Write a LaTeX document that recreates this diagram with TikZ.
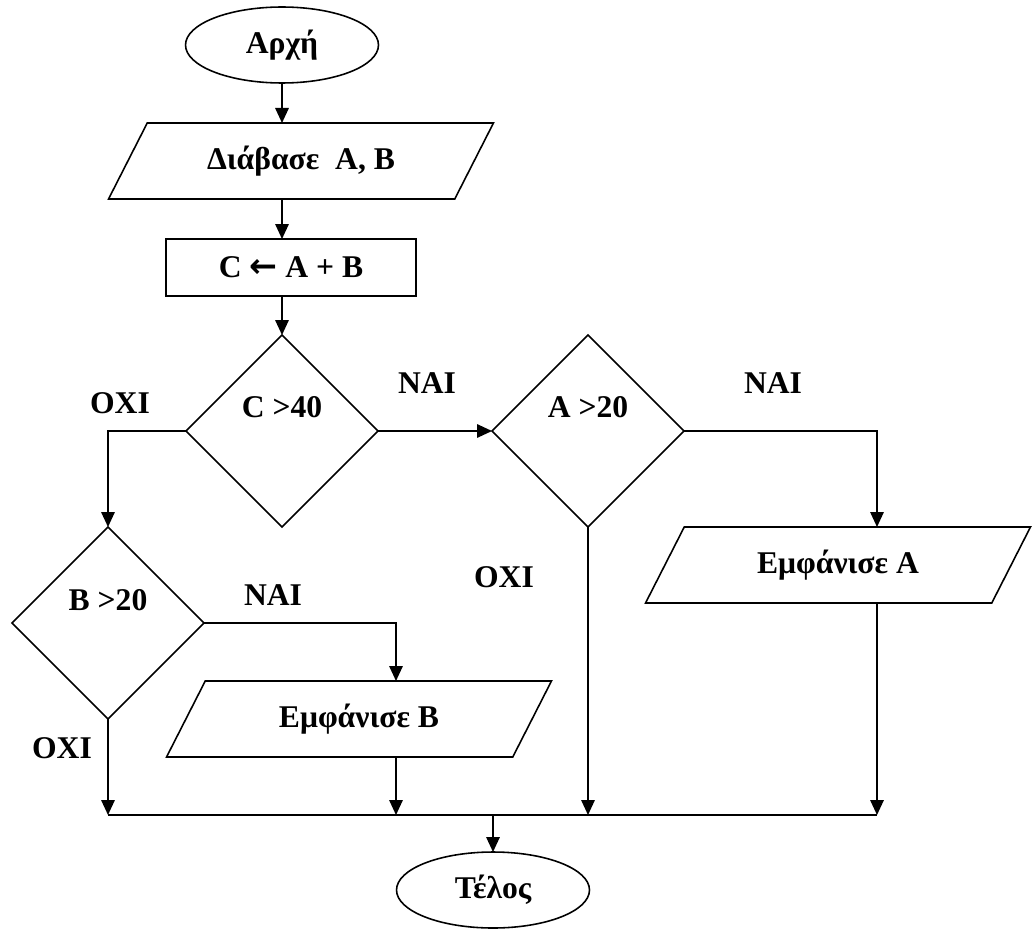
\documentclass[tikz,border=0pt]{standalone}
\usepackage{fontspec}
\setmainfont{Liberation Serif}
\newfontfamily\arrowfont{DejaVu Sans}
\usetikzlibrary{shapes.geometric,arrows.meta}

\begin{document}
\begin{tikzpicture}[x=0.02cm,y=-0.02cm,line width=0.9pt,
    font=\fontsize{18}{21}\selectfont\bfseries,
    every node/.style={inner sep=0pt,outer sep=0pt},
    term/.style={draw,ellipse,minimum width=3.86cm,minimum height=1.52cm},
    io/.style={draw,trapezium,trapezium left angle=38,trapezium right angle=142,
        trapezium stretches body,minimum width=7.7cm,minimum height=1.52cm},
    proc/.style={draw,rectangle,minimum width=5cm,minimum height=1.14cm},
    test/.style={draw,diamond,minimum width=3.84cm,minimum height=3.84cm},
    arr/.style={-{Triangle[length=0.3cm,width=0.27cm]}}]

    \useasboundingbox (0,0) rectangle (1033,929);

    \node[term] (start) at (282,45) {Αρχή};
    \node[io] (read) at (301,161) {Διάβασε\ \ A, B};
    \node[proc] (calc) at (291,267.5) {C {\arrowfont\bfseries\fontsize{19}{19}\selectfont ←} A + B};
    \node[test,label={[yshift=0.48cm]center:C >40}] (c40) at (282,431) {};
    \node[test,label={[yshift=0.48cm]center:A >20}] (a20) at (588,431) {};
    \node[test,label={[yshift=0.46cm]center:B >20}] (b20) at (108,623) {};
    \node[io] (showA) at (838,565) {Εμφάνισε A};
    \node[io] (showB) at (359,719) {Εμφάνισε B};
    \node[term] (stop) at (493,890) {Τέλος};

    \node (yesC) at (427,383) {ΝΑΙ};
    \node (noC) at (120,403) {ΟΧΙ};
    \node (yesA) at (773,383) {ΝΑΙ};
    \node (noA) at (504,577) {ΟΧΙ};
    \node (yesB) at (273,595) {ΝΑΙ};
    \node (noB) at (62,748) {ΟΧΙ};

    \coordinate (jB) at (108,815);
    \coordinate (jE) at (396,815);
    \coordinate (jA) at (877,815);

    \draw[arr] (start.south) -- (start.south |- read.north);
    \draw[arr] (start |- read.south) -- (start |- calc.north);
    \draw[arr] (c40 |- calc.south) -- (c40.north);
    \draw[arr] (c40.east) -- (a20.west);
    \draw[arr] (a20.east) -| (jA |- showA.north);
    \draw[arr] (jA |- showA.south) -- (jA);
    \draw[arr] (c40.west) -| (b20.north);
    \draw[arr] (b20.east) -| (jE |- showB.north);
    \draw[arr] (jE |- showB.south) -- (jE);
    \draw[arr] (b20.south) -- (jB);
    \draw[arr] (a20.south) -- (a20 |- jA);
    \draw (jB) -- (jA);
    \draw[arr] (stop |- jA) -- (stop.north);

\end{tikzpicture}
\end{document}
